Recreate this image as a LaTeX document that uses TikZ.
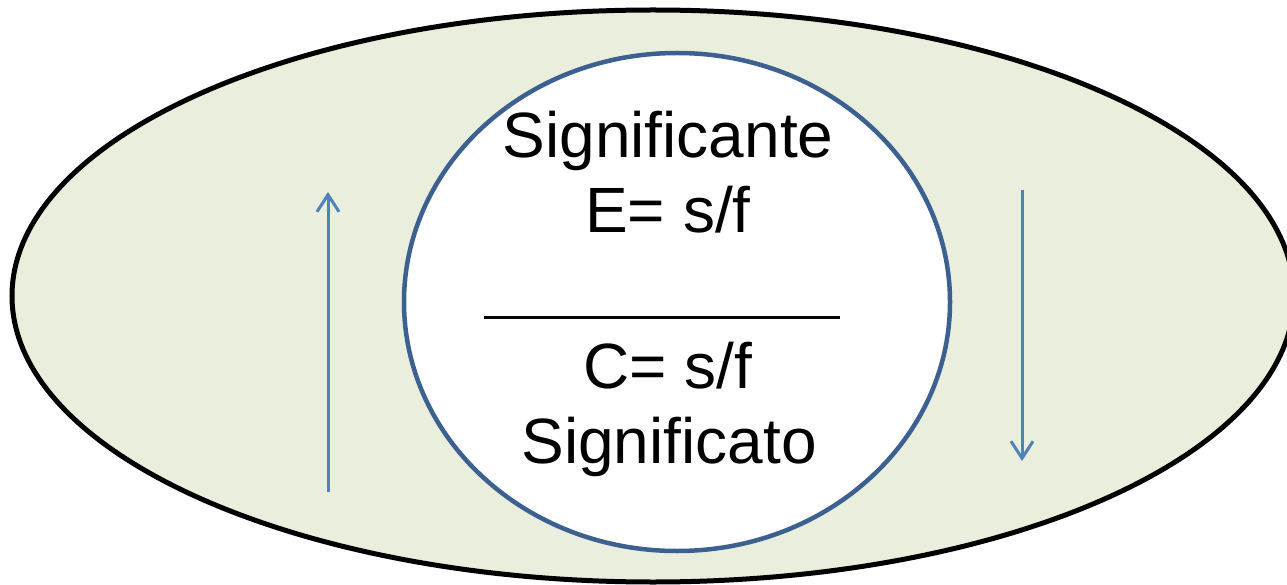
\documentclass[tikz,border=0pt]{standalone}
\usepackage{fontspec}
\setmainfont{Liberation Sans}
\usetikzlibrary{arrows.meta,shapes.geometric}
\definecolor{outerfill}{HTML}{EAEEDD}
\definecolor{circleblue}{HTML}{3C6090}
\definecolor{arrowblue}{HTML}{4F81BD}
\tikzset{
  lbl/.style={font=\fontsize{64}{75}\selectfont, inner sep=0pt, anchor=base},
  flowarrow/.style={draw=arrowblue, line width=3pt, -{Straight Barb[length=17pt,width=22pt,line width=3pt]}}
}
\begin{document}
\begin{tikzpicture}[x=1pt,y=-1pt]
\useasboundingbox (0,0) rectangle (1287,585);
\clip (0,0) rectangle (1287,585);
\fill[white] (0,0) rectangle (1287,585);
\draw[line width=5pt, fill=outerfill] (653,296) ellipse [x radius=641, y radius=286];
\node (inner) [draw=circleblue, line width=4.5pt, fill=white, ellipse, minimum width=546pt, minimum height=498pt, inner sep=0pt] at (677,302) {};
\node (t1) [lbl] at (668,158) {Significante};
\node (t2) [lbl] at (668,233) {E= s/f};
\node (t3) [lbl] at (668,388) {C= s/f};
\node (t4) [lbl] at (669,463) {Significato};
\coordinate (dl) at (484,317);
\coordinate (dr) at (840,317);
\draw[line width=3pt] (dl) -- (dr);
\coordinate (la) at (328,492);
\coordinate (lb) at (328,192);
\draw[flowarrow] (la) -- (lb);
\coordinate (ra) at (1022,190);
\coordinate (rb) at (1022,461);
\draw[flowarrow] (ra) -- (rb);
\end{tikzpicture}
\end{document}
